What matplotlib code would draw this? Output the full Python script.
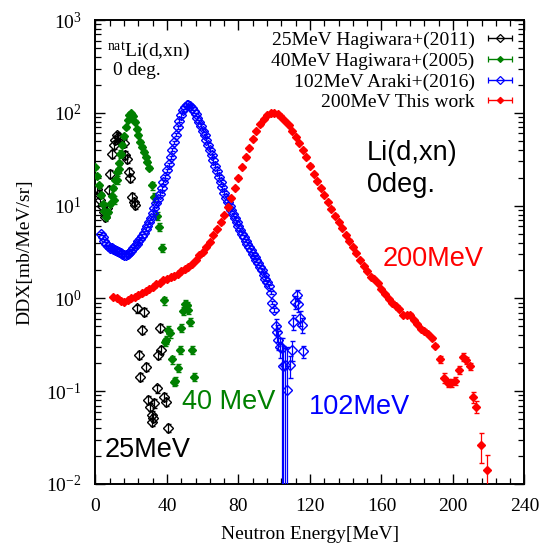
import numpy as np
import matplotlib
matplotlib.use('Agg')
import matplotlib.pyplot as plt
from matplotlib.ticker import MultipleLocator, LogLocator, NullFormatter
from matplotlib.container import ErrorbarContainer
from matplotlib.legend_handler import HandlerErrorbar

plt.rcParams['font.family'] = ['Liberation Serif', 'DejaVu Serif']
plt.rcParams['mathtext.fontset'] = 'custom'
plt.rcParams['mathtext.rm'] = 'Liberation Serif'
plt.rcParams['mathtext.it'] = 'Liberation Serif:italic'

# 25 MeV Hagiwara+(2011)
e25 = [0.8, 1.7, 2.6, 3.5, 4.5, 5.5, 6.5, 7.4, 8.3, 9.2,
       10.2, 11.1, 12.0, 12.8, 13.7, 15.8, 16.7, 17.5, 18.6, 19.5,
       20.4, 21.4, 22.3, 23.2, 24.1, 25.0, 25.9, 27.0, 28.2, 29.6,
       30.6, 31.4, 31.8, 32.3, 33.0, 34.2, 35.2, 36.1, 36.9, 38.6,
       39.6, 40.8]
ddx25 = [15, 13.5, 11.5, 9.8, 8.6, 7.6, 9.5, 14.7, 22, 36,
         45, 51, 57, 55, 52, 47, 35, 32, 23, 20,
         12.5, 11, 10.1, 0.78, 0.245, 0.143, 0.46, 0.72, 0.184, 0.08,
         0.068, 0.056, 0.047, 0.052, 0.074, 0.107, 0.245, 0.48, 0.28, 0.087,
         0.077, 0.04]
err25 = 0.10

# 40 MeV Hagiwara+(2005): dense band + sparse points
e40_band = np.arange(0, 31)
ddx40_band = [26, 21, 16.5, 13, 10.5, 8.8, 7.6, 8.5, 10.3, 12.7,
              15.5, 19, 23, 29, 36, 45, 56, 70, 84, 94,
              99, 93, 80, 67, 57, 49, 43, 38, 33, 29.5,
              25.5]
e40 = [10.2, 11.9, 12.9, 13.8, 31.5, 32.5, 34.3, 35.6, 37.1, 38.1,
       38.8, 39.6, 40.8, 41.8, 42.9, 43.9, 44.5, 46.1, 47.2, 48.1,
       49.2, 50.1, 51.1, 51.8, 52.9, 54.1, 55.1]
ddx40 = [11.5, 19, 25, 36, 16.5, 12.3, 7.8, 5.9, 3.5, 0.95,
         0.34, 0.36, 0.46, 0.42, 0.22, 0.125, 0.13, 0.18, 0.28, 0.48,
         0.73, 0.88, 0.84, 0.75, 0.56, 0.28, 0.143]
err40_band = 0.04
err40 = 0.10

# 102 MeV Araki+(2016)
e102_main = np.arange(3, 101)
ddx102_main = [5.0, 4.6, 4.2, 3.85, 3.65, 3.5, 3.45, 3.4, 3.3, 3.25,
               3.15, 3.1, 3.0, 2.95, 2.95, 3.0, 3.1, 3.25, 3.45, 3.65,
               3.9, 4.15, 4.4, 4.7, 5.1, 5.6, 6.1, 6.7, 7.4, 8.4,
               9.4, 10.6, 11.8, 13.5, 15.5, 18.0, 20.5, 24, 28, 33,
               40, 48, 58, 70, 82, 95, 106, 115, 120, 121,
               118, 112, 104, 96, 88, 80, 72, 64, 57, 51,
               45, 40, 35, 31, 27, 23.5, 20.5, 18, 15.8, 13.8,
               12.2, 11, 10, 9, 8.1, 7.3, 6.6, 6.0, 5.5, 5.0,
               4.6, 4.2, 3.9, 3.6, 3.3, 3.0, 2.8, 2.6, 2.4, 2.2,
               2.0, 1.8, 1.62, 1.5, 1.35, 1.15, 0.9, 0.75]
err102_main = 0.04
e102_tail = [100.8, 101.5, 102.3, 103.2, 104.2, 105.0, 106.0, 107.0, 108.8,
             109.7, 110.7, 111.6, 112.5, 113.5, 114.4, 115.4, 116.3]
ddx102_tail = [0.5, 0.43, 0.36, 0.3, 0.29, 0.185, 0.19, 0.103, 0.19,
               0.28, 0.56, 0.92, 1.09, 0.86, 0.62, 0.52, 0.27]
lo102_tail = [0.1, 0.09, 0.08, 0.07, 0.29, 0.185, 0.19, 0.103, 0.05,
              0.07, 0.1, 0.15, 0.15, 0.15, 0.12, 0.1, 0.04]
hi102_tail = [0.1, 0.09, 0.08, 0.07, 0.08, 0.12, 0.1, 0.2, 0.05,
              0.07, 0.1, 0.15, 0.15, 0.15, 0.12, 0.1, 0.04]

# 200 MeV this work
e200_main = np.arange(10, 191, 2)
ddx200_main = [1.04, 1.02, 0.93, 0.92, 0.95, 1.0, 1.04, 1.08, 1.13, 1.2,
               1.27, 1.34, 1.42, 1.48, 1.56, 1.62, 1.69, 1.76, 1.85, 1.95,
               2.05, 2.2, 2.35, 2.6, 2.9, 3.2, 3.6, 4.1, 4.8, 5.6,
               6.6, 7.9, 9.6, 12.0, 15.5, 20, 26, 33, 42, 52,
               64, 75, 86, 94, 99, 100, 97, 91, 82, 73,
               63, 55, 47, 40, 33, 27, 22, 18.5, 15.5, 13,
               11, 9.3, 7.8, 6.7, 5.7, 4.8, 4.2, 3.6, 3.1, 2.6,
               2.25, 1.95, 1.72, 1.6, 1.45, 1.25, 1.12, 0.98, 0.9, 0.82,
               0.76, 0.66, 0.66, 0.67, 0.58, 0.53, 0.47, 0.45, 0.41, 0.37,
               0.31]
err200_main = 0.03
e200_tail = [192.5, 195, 197, 199, 201, 203.5, 205.5, 207.5, 209.5, 211, 213, 215.5, 219]
ddx200_tail = [0.22, 0.14, 0.122, 0.122, 0.13, 0.17, 0.235, 0.215, 0.185, 0.087, 0.068, 0.026, 0.014]
err200_tail = [0.08, 0.12, 0.10, 0.10, 0.10, 0.10, 0.09, 0.09, 0.09, 0.14, 0.14, 0.35, 0.45]

GREEN = '#008000'


def draw_set(ax, x, y, lo, hi, color, filled, ms, z):
    '''errorbar points in the gnuplot look'''
    ax.errorbar(x, y, yerr=[lo, hi], fmt='D', color=color, ms=ms,
                mfc=color if filled else 'none', mec=color, mew=1.0,
                elinewidth=0.9, capsize=1.8, capthick=0.9, zorder=z)


fig = plt.figure(figsize=(5.5, 5.47), dpi=100)
ax = fig.add_axes([0.1736, 0.1152, 0.78, 0.8482])

y = np.array(ddx25)
draw_set(ax, e25, y, y * err25, y * err25, 'black', False, 4.8, 2)
y = np.array(ddx40_band)
draw_set(ax, e40_band, y, y * err40_band, y * err40_band, GREEN, True, 4.2, 3)
y = np.array(ddx40)
draw_set(ax, e40, y, y * err40, y * err40, GREEN, True, 3.9, 3)
y = np.array(ddx102_main)
draw_set(ax, e102_main, y, y * err102_main, y * err102_main, 'blue', False, 4.8, 4)
y = np.array(ddx102_tail)
lo = np.minimum(np.array(lo102_tail), y * 0.999)
draw_set(ax, e102_tail, y, lo, hi102_tail, 'blue', False, 4.8, 4)
y = np.array(ddx200_main)
draw_set(ax, e200_main, y, y * err200_main, y * err200_main, 'red', True, 3.8, 5)
y = np.array(ddx200_tail)
e = y * np.array(err200_tail)
draw_set(ax, e200_tail, y, e, e, 'red', True, 3.8, 5)

# legend proxies with horizontal bars, like gnuplot keys
labels = ['25MeV Hagiwara+(2011)', '40MeV Hagiwara+(2005)',
          '102MeV Araki+(2016)', '200MeV This work']
styles = [('black', False, 4.2), (GREEN, True, 3.0), ('blue', False, 4.2), ('red', True, 3.2)]
handles = []
for lab, (c, filled, ms) in zip(labels, styles):
    h = ax.errorbar([np.nan], [np.nan], xerr=[1], fmt='D', color=c, ms=ms,
                    mfc=c if filled else 'none', mec=c, mew=0.9,
                    elinewidth=1.0, capsize=2.5, capthick=1.0, label=lab)
    handles.append(h)
ax.legend(handles=handles, loc='upper right', frameon=False, fontsize=14,
          markerfirst=False, handlelength=1.3, handletextpad=0.67,
          labelspacing=0.15, borderaxespad=0.4, borderpad=0.2,
          handler_map={ErrorbarContainer: HandlerErrorbar(xerr_size=0.62)})

ax.set_yscale('log')
ax.set_xlim(0, 240)
ax.set_ylim(1e-2, 1e3)
ax.xaxis.set_major_locator(MultipleLocator(40))
ax.xaxis.set_minor_locator(MultipleLocator(8))
ax.yaxis.set_minor_locator(LogLocator(base=10, subs=np.arange(2, 10)))
ax.yaxis.set_minor_formatter(NullFormatter())
ax.tick_params(which='both', direction='in', top=True, right=True, labelsize=14)
ax.tick_params(which='major', length=7, width=1.0, pad=10)
ax.tick_params(which='minor', length=4, width=0.9)
for s in ax.spines.values():
    s.set_linewidth(1.4)

ax.set_xlabel('Neutron Energy[MeV]', fontsize=14, labelpad=8)
ax.set_ylabel('DDX[mb/MeV/sr]', fontsize=14, labelpad=9)

# annotations
ax.text(6.4, 460, r'$^{\rm nat}$Li(d,xn)', fontsize=14, va='center', ha='left')
ax.text(9.8, 285, '0 deg.', fontsize=14, va='center', ha='left')
sans = 'Liberation Sans'
ax.text(151.9, 36.9, 'Li(d,xn)', fontsize=19.5, family=sans, va='center', ha='left')
ax.text(151.9, 16.7, '0deg.', fontsize=19.5, family=sans, va='center', ha='left')
ax.text(160.8, 2.66, '200MeV', fontsize=19.5, family=sans, color='red', va='center', ha='left')
ax.text(48.4, 0.0765, '40 MeV', fontsize=19.5, family=sans, color=GREEN, va='center', ha='left')
ax.text(119.4, 0.0676, '102MeV', fontsize=19.5, family=sans, color='blue', va='center', ha='left')
ax.text(5.3, 0.0232, '25MeV', fontsize=19.5, family=sans, color='black', va='center', ha='left')

plt.savefig('out.png', dpi=100)
